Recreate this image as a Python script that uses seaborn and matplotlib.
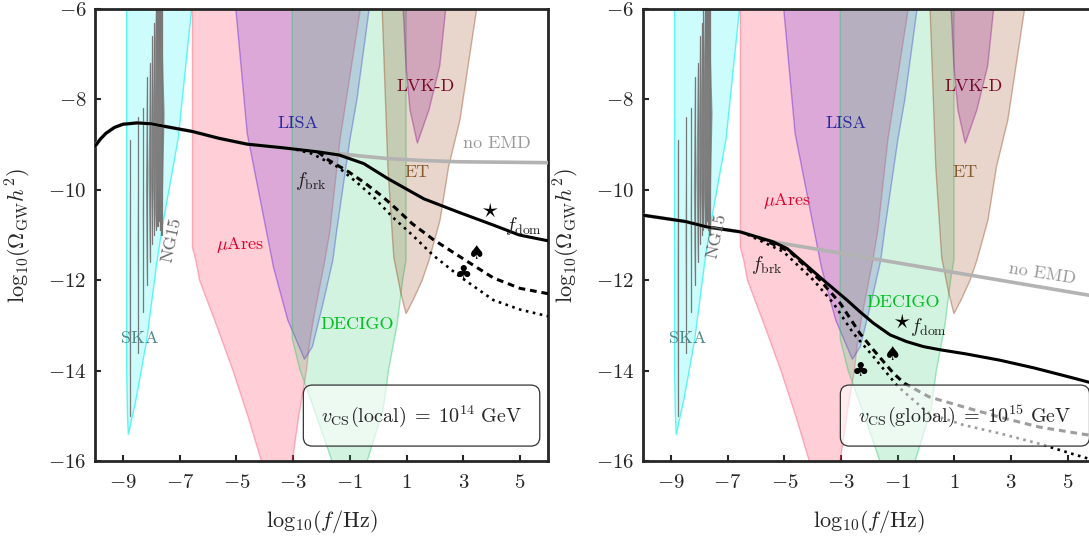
import matplotlib
matplotlib.use("Agg")
import matplotlib.pyplot as plt
import seaborn as sns
import pandas as pd
from matplotlib.patches import FancyBboxPatch

# ---------------- data ----------------
xticks = [-9, -7, -5, -3, -1, 1, 3, 5]
yticks = [-16, -14, -12, -10, -8, -6]

# sensitivity regions: boundary polygons (log10 f, log10 Omega h^2)
ska_f = [-8.87, -8.87, -8.84, -8.81, -8.52, -8.16, -7.81, -7.63, -7.05, -6.58, -6.45]
ska_o = [-5.5, -14.0, -15.0, -15.42, -14.58, -13.32, -11.63, -10.89, -8.86, -6.0, -5.5]

mua_f = [-6.55, -6.55, -6.43, -6.30, -5.70, -5.12, -4.60, -4.12, -3.60, -3.03, -2.80, -2.53,
         -2.44, -2.29, -1.88, -1.70, -1.35, -0.63, -0.52]
mua_o = [-5.5, -11.28, -11.56, -12.0, -13.0, -14.0, -15.0, -16.0, -16.6, -16.0, -15.0, -14.0,
         -13.47, -12.88, -11.56, -10.89, -8.9, -6.0, -5.5]

lisa_f = [-5.08, -5.02, -4.62, -3.69, -3.19, -2.60, -2.32, -1.94, -1.60, -1.46, -1.00, -0.75, -0.32, -0.25]
lisa_o = [-5.5, -6.0, -8.75, -11.72, -12.88, -13.75, -13.47, -12.5, -11.56, -10.89, -8.9, -8.0, -6.0, -5.5]

dec_f = [-3.03, -3.03, -2.75, -2.25, -1.63, -1.00, -0.39, 0.17, 0.36, 0.67, 0.86, 0.98, 0.98]
dec_o = [-5.5, -13.3, -14.0, -14.87, -16.0, -16.5, -16.0, -14.87, -14.0, -12.96, -12.0, -11.56, -5.5]

et_f = [0.12, 0.14, 0.34, 0.55, 0.80, 0.98, 1.23, 1.55, 1.79, 2.18, 2.48, 2.88, 3.47, 3.60]
et_o = [-5.5, -6.0, -9.49, -11.5, -12.29, -12.74, -12.44, -12.0, -11.56, -10.67, -9.49, -8.46, -6.0, -5.5]

lvk_f = [0.85, 0.88, 0.98, 1.12, 1.38, 1.79, 2.17, 2.38, 2.42]
lvk_o = [-5.5, -6.0, -7.26, -8.23, -8.97, -8.23, -7.26, -6.0, -5.5]

# NANOGrav 15-yr violins
ng_f = [-8.75, -8.46, -8.28, -8.16, -8.05, -7.97, -7.90, -7.85, -7.80, -7.76, -7.72, -7.68, -7.65, -7.62]
ng_lo = [-15.0, -13.6, -12.7, -12.1, -11.6, -11.2, -11.0, -10.9, -10.8, -10.8, -10.7, -10.9, -11.0, -11.0]
ng_hi = [-8.9, -8.4, -8.2, -7.5, -7.2, -6.6, -6.3, -6.0, -6.0, -6.0, -6.0, -6.0, -6.0, -6.0]
ng_pk = [-12.0, -11.0, -10.5, -10.0, -9.6, -9.3, -9.0, -8.8, -8.7, -8.6, -8.5, -8.4, -8.4, -8.3]
ng_w = [0.01, 0.02, 0.02, 0.03, 0.05, 0.06, 0.08, 0.09, 0.1, 0.1, 0.1, 0.1, 0.1, 0.09]

# left panel: local strings, v = 1e14 GeV
L_solid_f = [-10, -9.8, -9.6, -9.3, -9.0, -8.5, -8.0, -7.5, -6.55, -5.62, -4.62, -3.37, -2.13,
             -1.38, -0.51, 0.36, 1.61, 2.85, 4.1, 4.97, 6.0]
L_solid_o = [-9.05, -8.88, -8.75, -8.62, -8.55, -8.52, -8.54, -8.6, -8.71, -8.86, -8.99, -9.07,
             -9.16, -9.23, -9.42, -9.76, -10.2, -10.5, -10.79, -11.0, -11.13]
L_noemd_f = [-10, -9.8, -9.6, -9.3, -9.0, -8.5, -8.0, -7.5, -6.55, -5.62, -4.62, -3.37, -2.13,
             -1.38, -0.5, 0.36, 1.5, 2.85, 4.5, 6.0]
L_noemd_o = [-9.05, -8.88, -8.75, -8.62, -8.55, -8.52, -8.54, -8.6, -8.71, -8.86, -8.99, -9.07,
             -9.16, -9.2, -9.26, -9.31, -9.35, -9.38, -9.39, -9.40]
L_dash_f = [-2.13, -1.76, -1.05, -0.47, 0.15, 0.6, 1.2, 1.94, 2.88, 4.06, 5.0, 6.0]
L_dash_o = [-9.16, -9.34, -9.6, -9.85, -10.15, -10.4, -10.75, -11.1, -11.48, -11.95, -12.18, -12.3]
L_dot_f = [-2.9, -2.34, -1.41, -0.73, -0.1, 0.5, 1.2, 1.94, 2.88, 4.06, 5.0, 6.0]
L_dot_o = [-9.11, -9.2, -9.5, -9.85, -10.2, -10.6, -11.0, -11.45, -11.92, -12.44, -12.65, -12.8]

# right panel: global strings, v = 1e15 GeV
R_solid_f = [-10, -8.5, -7.73, -6.56, -5.4, -4.9, -4.44, -3.62, -2.79, -2.33, -1.86, -1.27,
             -0.68, -0.09, 0.5, 1.4, 2.6, 3.8, 5.1, 6.0]
R_solid_o = [-10.56, -10.7, -10.82, -10.93, -11.15, -11.3, -11.55, -12.0, -12.44, -12.7, -12.95,
             -13.21, -13.36, -13.47, -13.54, -13.63, -13.77, -13.94, -14.15, -14.3]
R_noemd_f = [-10, -8.5, -7.73, -6.56, -5.4, 6.0]
R_noemd_o = [-10.56, -10.7, -10.82, -10.93, -11.15, -12.36]
R_dash_f = [-5.9, -4.8, -3.74, -3.03, -2.33, -1.86, -1.15, -0.77, 0.1, 1.3, 2.6, 4.0, 5.46, 6.0]
R_dash_o = [-11.06, -11.37, -12.0, -12.51, -13.18, -13.54, -14.06, -14.28, -14.58, -14.8, -15.03,
            -15.25, -15.4, -15.45]
R_dot_f = [-6.3, -5.03, -3.97, -3.27, -2.56, -1.86, -1.38, -1.0, 0.1, 1.3, 2.6, 4.0, 5.09, 6.0]
R_dot_o = [-10.99, -11.37, -12.0, -12.51, -13.18, -13.69, -14.06, -14.35, -14.95, -15.2, -15.39,
           -15.62, -15.83, -16.0]

# label positions per panel
labels_common = {
    "LISA": (-2.83, -8.52, "#2a2aa0"),
    "LVK-D": (1.66, -7.70, "#7a0a2a"),
    "ET": (1.36, -9.62, "#8b5a2b"),
    "SKA": (-8.42, -13.29, "#4d8a8a"),
}
L_pos = dict(muares=(-4.86, -11.22), decigo=(-0.75, -12.97), ng15=(-7.3, -11.1),
             fbrk=(-2.37, -9.8), star=(3.95, -10.46), fdom=(5.12, -10.81),
             spade=(3.47, -11.41), club=(3.0, -11.85), noemd=(4.2, -8.98, 0))
R_pos = dict(muares=(-4.89, -10.24), decigo=(-0.8, -12.48), ng15=(-7.38, -11.02),
             fbrk=(-5.62, -11.66), star=(-0.85, -12.92), fdom=(0.08, -13.04),
             spade=(-1.17, -13.65), club=(-2.3, -13.99), noemd=(4.1, -11.85, -9))
box_texts = [r"$v_{\rm CS}({\rm local})\;=\;10^{14}\ {\rm GeV}$",
             r"$v_{\rm CS}({\rm global})\;=\;10^{15}\ {\rm GeV}$"]
box_x = [(0.460, 0.981), (0.436, 0.985)]

# ---------------- style ----------------
sns.set_style("ticks")
plt.rcParams["font.family"] = ["cmr10", "DejaVu Sans"]
plt.rcParams["mathtext.fontset"] = "cm"
plt.rcParams["axes.formatter.use_mathtext"] = True
plt.rcParams["axes.unicode_minus"] = True

fig = plt.figure(figsize=(10.89, 5.37), dpi=100)
axL = fig.add_axes([94.6 / 1089, 76 / 537, 453.8 / 1089, 452 / 537])
axR = fig.add_axes([642.5 / 1089, 76 / 537, 453.8 / 1089, 452 / 537])


def region(ax, f, o, color, a, ea):
    ax.fill(f, o, facecolor=matplotlib.colors.to_rgba(color, a),
            edgecolor=matplotlib.colors.to_rgba(color, ea), lw=1.0, zorder=1)


def draw(ax, pos, solid, noemd, dash, dot, boxtxt, bx):
    region(ax, ska_f, ska_o, "#00f0f0", 0.2, 0.6)
    region(ax, mua_f, mua_o, "#ff3355", 0.24, 0.35)
    region(ax, lisa_f, lisa_o, "#3a00e0", 0.18, 0.35)
    region(ax, dec_f, dec_o, "#2ecc71", 0.22, 0.45)
    region(ax, et_f, et_o, "#a0522d", 0.24, 0.45)
    region(ax, lvk_f, lvk_o, "#800080", 0.22, 0.35)

    for f, lo, hi, pk, w in zip(ng_f, ng_lo, ng_hi, ng_pk, ng_w):
        xs = [f, f + 0.3 * w, f + w, f + 0.4 * w, f, f - 0.4 * w, f - w, f - 0.3 * w]
        ys = [lo, lo + 0.3 * (pk - lo), pk, pk + 0.5 * (hi - pk), hi,
              pk + 0.5 * (hi - pk), pk, lo + 0.3 * (pk - lo)]
        ax.fill(xs, ys, facecolor=(0.5, 0.5, 0.5, 0.8), edgecolor="none", zorder=2)
        ax.plot([f, f], [lo, hi], color="#777777", lw=0.9, zorder=2)

    sns.lineplot(x=noemd[0], y=noemd[1], ax=ax, color="#b3b3b3", lw=2.6, sort=False, zorder=3)
    sns.lineplot(x=dot[0], y=dot[1], ax=ax, color="k", lw=1.9, linestyle=(0, (1, 1.7)),
                 sort=False, zorder=4)
    sns.lineplot(x=dash[0], y=dash[1], ax=ax, color="k", lw=2.2, linestyle=(0, (2.2, 1.6)),
                 sort=False, zorder=4)
    sns.lineplot(x=solid[0], y=solid[1], ax=ax, color="k", lw=2.2, sort=False, zorder=5)

    fs = 13
    for name, (x, y, c) in labels_common.items():
        ax.text(x, y, name, color=c, fontsize=fs, ha="center", va="center", zorder=6)
    ax.text(*pos["muares"], r"$\mu$Ares", color="#e0002a", fontsize=fs, ha="center",
            va="center", zorder=6)
    ax.text(*pos["decigo"], "DECIGO", color="#00c020", fontsize=fs, ha="center",
            va="center", zorder=6)
    ax.text(*pos["ng15"], "NG15", color="#666666", fontsize=fs, ha="center", va="center",
            rotation=78, zorder=6)
    nx, ny, nr = pos["noemd"]
    ax.text(nx, ny, "no EMD", color="#999999", fontsize=fs, ha="center", va="center",
            rotation=nr, zorder=6)
    ax.text(*pos["fbrk"], r"$f_{\rm brk}$", color="#222222", fontsize=14, ha="center",
            va="center", zorder=6)
    ax.text(*pos["star"], r"$\star$", color="k", fontsize=17, ha="center", va="center", zorder=6)
    ax.text(*pos["fdom"], r"$f_{\rm dom}$", color="#222222", fontsize=14, ha="center",
            va="center", zorder=6)
    ax.text(*pos["spade"], "\u2660", family="DejaVu Sans", color="k", fontsize=14,
            ha="center", va="center", zorder=6)
    ax.text(*pos["club"], "\u2663", family="DejaVu Sans", color="k", fontsize=14,
            ha="center", va="center", zorder=6)

    box = FancyBboxPatch((bx[0], 0.033), bx[1] - bx[0], 0.135,
                         boxstyle="round,pad=0,rounding_size=0.02", transform=ax.transAxes,
                         facecolor=(1, 1, 1, 0.62), edgecolor="#333333", lw=0.9, zorder=10,
                         clip_on=False)
    ax.add_patch(box)
    ax.text((bx[0] + bx[1]) / 2, 0.1, boxtxt, transform=ax.transAxes, fontsize=14.5,
            ha="center", va="center", zorder=11)

    ax.set_xlim(-10, 6)
    ax.set_ylim(-16, -6)
    ax.set_xticks(xticks)
    ax.set_yticks(yticks)
    ax.tick_params(direction="in", length=4.5, width=1.5, labelsize=15, top=False, right=False)
    ax.tick_params(axis="x", pad=9)
    ax.tick_params(axis="y", pad=6)
    for s in ax.spines.values():
        s.set_linewidth(2.0)
        s.set_visible(True)
    ax.set_xlabel(r"$\mathrm{log}_{10}(f/{\rm Hz})$", fontsize=16, labelpad=12)
    ax.set_ylabel(r"$\mathrm{log}_{10}(\Omega_{\rm GW}h^2)$", fontsize=16, labelpad=10)


draw(axL, L_pos, (L_solid_f, L_solid_o), (L_noemd_f, L_noemd_o), (L_dash_f, L_dash_o),
     (L_dot_f, L_dot_o), box_texts[0], box_x[0])
draw(axR, R_pos, (R_solid_f, R_solid_o), (R_noemd_f, R_noemd_o), (R_dash_f, R_dash_o),
     (R_dot_f, R_dot_o), box_texts[1], box_x[1])

fig.savefig("out.png", dpi=100)
